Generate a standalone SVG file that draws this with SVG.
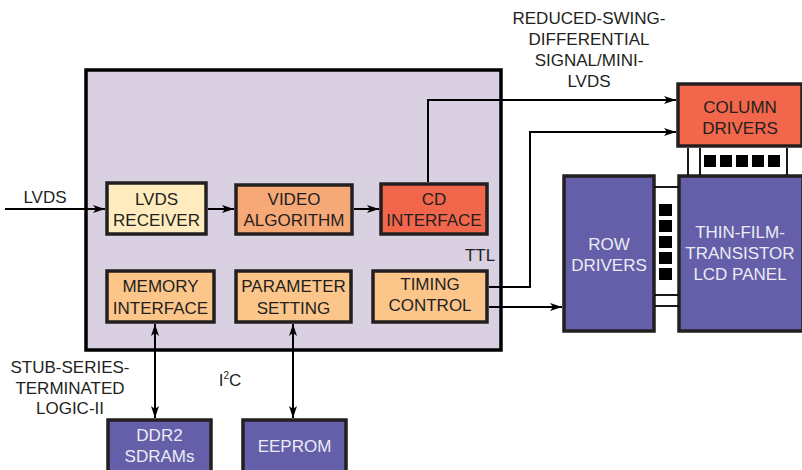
<svg xmlns="http://www.w3.org/2000/svg" width="802" height="470" viewBox="0 0 802 470">
<defs>
<marker id="arr" viewBox="0 0 12 8" refX="12" refY="4" markerWidth="12" markerHeight="8" markerUnits="userSpaceOnUse" orient="auto-start-reverse">
<path d="M0,0 L12,4 L0,8 L3,4 Z" fill="#000"/>
</marker>
<style>
text{font-family:"Liberation Sans",Arial,sans-serif;font-size:17px;fill:#231f20;text-anchor:middle}
.lbl{font-size:17px}
.w{fill:#ecebf4}
.box{stroke:#231f20;stroke-width:3.5}
.ln{stroke:#000;stroke-width:2;fill:none}
.thin{stroke:#000;stroke-width:1.8;fill:none}
.sq{fill:#000}
</style>
</defs>
<rect width="802" height="470" fill="#fff"/>

<g id="main">
<rect x="86" y="70" width="415" height="280" fill="#d9d0e2" stroke="#000" stroke-width="3.5"/>
<text x="480" y="261">TTL</text>
</g>

<g id="lvds-receiver">
<rect class="box" x="107" y="183" width="99" height="51" fill="#feecbe"/>
<text x="156.5" y="205">LVDS</text><text x="156.5" y="226">RECEIVER</text>
</g>
<g id="video-algorithm">
<rect class="box" x="236" y="185" width="116" height="49" fill="#f7a877"/>
<text x="294" y="205">VIDEO</text><text x="294" y="226">ALGORITHM</text>
</g>
<g id="cd-interface">
<rect class="box" x="381" y="184" width="106" height="50" fill="#f2674b"/>
<text x="434" y="205">CD</text><text x="434" y="226">INTERFACE</text>
</g>
<g id="memory-interface">
<rect class="box" x="107" y="271" width="107" height="51" fill="#fcc68b"/>
<text x="160.5" y="292">MEMORY</text><text x="160.5" y="314">INTERFACE</text>
</g>
<g id="parameter-setting">
<rect class="box" x="236" y="271" width="115" height="51" fill="#fcc68b"/>
<text x="293.5" y="292">PARAMETER</text><text x="293.5" y="314">SETTING</text>
</g>
<g id="timing-control">
<rect class="box" x="373" y="271" width="114" height="51" fill="#fcc68b"/>
<text x="430" y="290">TIMING</text><text x="430" y="311">CONTROL</text>
</g>

<g id="column-drivers">
<rect class="box" x="678" y="84" width="124" height="62" fill="#f2674b"/>
<text x="740" y="113">COLUMN</text><text x="740" y="134">DRIVERS</text>
</g>
<g id="row-drivers">
<rect class="box" x="564" y="176" width="90" height="155" fill="#645fa8"/>
<text class="w" x="609" y="250">ROW</text><text class="w" x="609" y="271">DRIVERS</text>
</g>
<g id="tft-panel">
<rect class="box" x="679" y="176" width="124" height="155" fill="#645fa8"/>
<text class="w" x="740" y="238">THIN-FILM-</text><text class="w" x="740" y="259">TRANSISTOR</text><text class="w" x="740" y="280">LCD PANEL</text>
</g>
<g id="ddr2">
<rect class="box" x="108" y="420" width="103" height="55" fill="#645fa8"/>
<text class="w" x="159.5" y="441">DDR2</text><text class="w" x="159.5" y="462">SDRAMs</text>
</g>
<g id="eeprom">
<rect class="box" x="243" y="420" width="103" height="55" fill="#645fa8"/>
<text class="w" x="294.5" y="452">EEPROM</text>
</g>

<g id="labels">
<text class="lbl" x="45" y="203">LVDS</text>
<text class="lbl" x="589" y="24">REDUCED-SWING-</text>
<text class="lbl" x="589" y="45">DIFFERENTIAL</text>
<text class="lbl" x="589" y="66">SIGNAL/MINI-</text>
<text class="lbl" x="589" y="87">LVDS</text>
<text class="lbl" x="70" y="373">STUB-SERIES-</text>
<text class="lbl" x="70" y="394">TERMINATED</text>
<text class="lbl" x="70" y="414">LOGIC-II</text>
<text class="lbl" x="230" y="386">I<tspan font-size="10" dy="-7">2</tspan><tspan dy="7">C</tspan></text>
</g>

<g id="connectors">
<line class="ln" x1="5" y1="209" x2="105" y2="209" marker-end="url(#arr)"/>
<line class="ln" x1="208" y1="209" x2="234" y2="209" marker-end="url(#arr)"/>
<line class="ln" x1="354" y1="209" x2="379" y2="209" marker-end="url(#arr)"/>
<polyline class="ln" points="428,182 428,100 676,100" marker-end="url(#arr)"/>
<polyline class="ln" points="489,287 530,287 530,132 676,132" marker-end="url(#arr)"/>
<line class="ln" x1="489" y1="307" x2="562" y2="307" marker-end="url(#arr)"/>
<line class="ln" x1="155" y1="324" x2="155" y2="418" marker-start="url(#arr)" marker-end="url(#arr)"/>
<line class="ln" x1="293" y1="324" x2="293" y2="418" marker-start="url(#arr)" marker-end="url(#arr)"/>
<line class="thin" x1="688" y1="148" x2="688" y2="175"/>
<line class="thin" x1="700" y1="148" x2="700" y2="175"/>
<line class="thin" x1="787" y1="148" x2="787" y2="175"/>
<rect class="sq" x="704" y="155" width="12" height="12"/>
<rect class="sq" x="720" y="155" width="12" height="12"/>
<rect class="sq" x="736" y="155" width="12" height="12"/>
<rect class="sq" x="752" y="155" width="12" height="12"/>
<rect class="sq" x="768" y="155" width="12" height="12"/>
<line class="thin" x1="655" y1="187" x2="678" y2="187"/>
<line class="thin" x1="655" y1="295" x2="678" y2="295"/>
<line class="thin" x1="655" y1="306" x2="678" y2="306"/>
<rect class="sq" x="659" y="204" width="13" height="12"/>
<rect class="sq" x="659" y="220" width="13" height="12"/>
<rect class="sq" x="659" y="236" width="13" height="12"/>
<rect class="sq" x="659" y="252" width="13" height="12"/>
<rect class="sq" x="659" y="268" width="13" height="12"/>
</g>
</svg>
